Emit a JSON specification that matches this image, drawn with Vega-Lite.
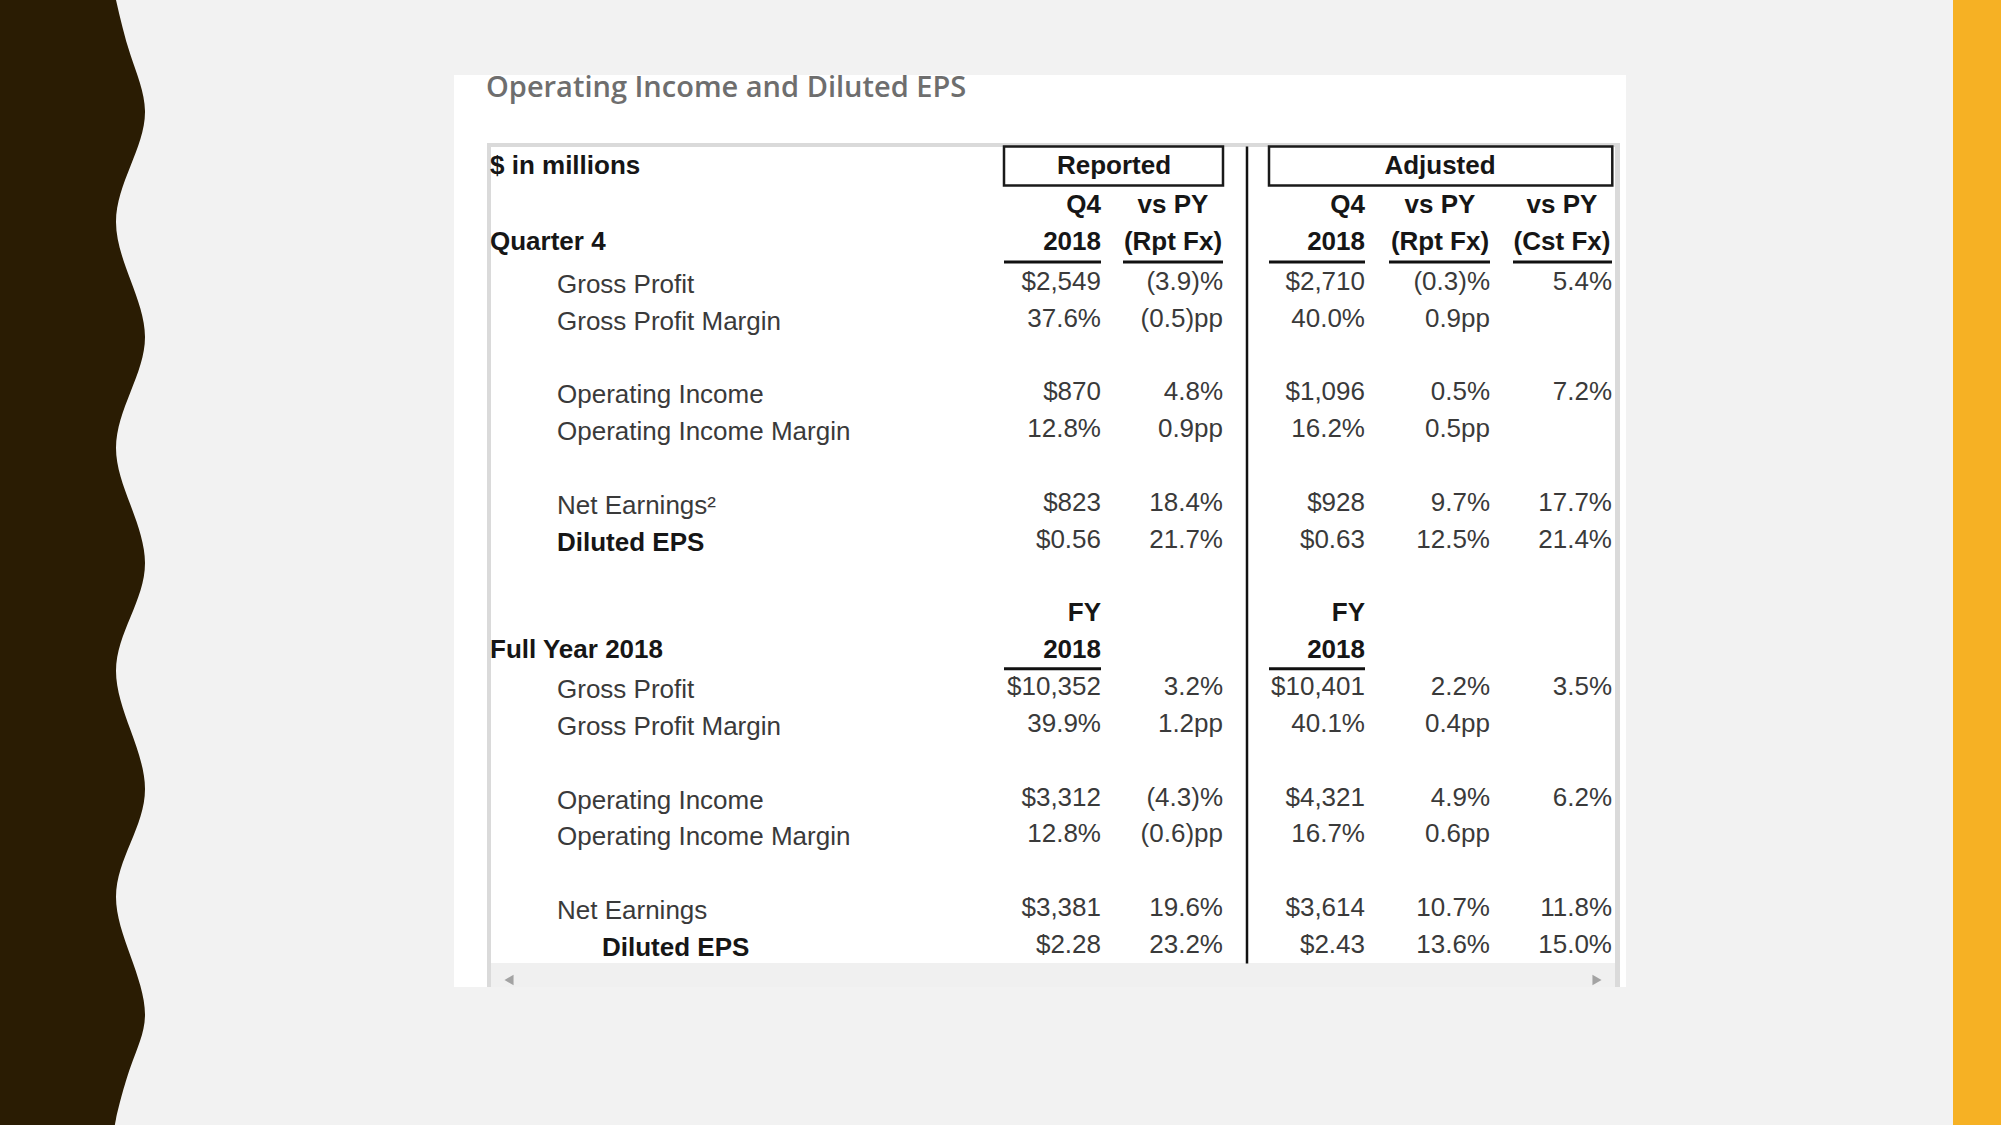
{
  "$schema": "https://vega.github.io/schema/vega-lite/v6.json",
  "width": 2001,
  "height": 1125,
  "autosize": {"type": "fit", "contains": "padding"},
  "padding": 0,
  "background": "#f2f2f2",
  "config": {"view": {"stroke": null}},
  "datasets": {
    "panels": [
      {"name": "card", "x0": 454, "x1": 1626, "y0": 75, "y1": 987},
      {"name": "accent", "x0": 1953, "x1": 2001, "y0": 0, "y1": 1125},
      {"name": "track", "x0": 491, "x1": 1615, "y0": 963, "y1": 987},
      {"name": "borderL", "x0": 487, "x1": 491, "y0": 143, "y1": 987},
      {"name": "borderT", "x0": 487, "x1": 1620, "y0": 143, "y1": 147},
      {"name": "borderR", "x0": 1615, "x1": 1620, "y0": 143, "y1": 987}
    ],
    "wave": [
      {"wy": 0, "wx": 116}, {"wy": 55, "wx": 130.5}, {"wy": 111, "wx": 145},
      {"wy": 166, "wx": 130.5}, {"wy": 222, "wx": 116}, {"wy": 280, "wx": 130.5}, {"wy": 337, "wx": 145},
      {"wy": 392, "wx": 130.5}, {"wy": 448, "wx": 116}, {"wy": 505, "wx": 130.5}, {"wy": 563, "wx": 145},
      {"wy": 617, "wx": 130.5}, {"wy": 671, "wx": 116}, {"wy": 730, "wx": 130.5}, {"wy": 789, "wx": 145},
      {"wy": 843, "wx": 130.5}, {"wy": 897, "wx": 116}, {"wy": 956, "wx": 130.5}, {"wy": 1015, "wx": 145},
      {"wy": 1067, "wx": 130.5}, {"wy": 1119, "wx": 116}, {"wy": 1125, "wx": 116.2}
    ],
    "arrows": [
      {"dir": "left", "ax": 509, "ay": 980},
      {"dir": "right", "ax": 1597, "ay": 980}
    ],
    "cells": [
      {"r": -2, "c": 0, "t": "Operating Income and Diluted EPS", "k": "title"},
      {"r": 0, "c": 1, "t": "$ in millions", "k": "section"},
      {"r": 0, "c": 6, "t": "Reported", "k": "hc"},
      {"r": 0, "c": 14, "t": "Adjusted", "k": "hc"},
      {"r": 1, "c": 5, "t": "Q4", "k": "hr"},
      {"r": 1, "c": 8, "t": "vs PY", "k": "hc"},
      {"r": 1, "c": 12, "t": "Q4", "k": "hr"},
      {"r": 1, "c": 14, "t": "vs PY", "k": "hc"},
      {"r": 1, "c": 17, "t": "vs PY", "k": "hc"},
      {"r": 2, "c": 1, "t": "Quarter 4", "k": "section"},
      {"r": 2, "c": 5, "t": "2018", "k": "hr"},
      {"r": 2, "c": 8, "t": "(Rpt Fx)", "k": "hc"},
      {"r": 2, "c": 12, "t": "2018", "k": "hr"},
      {"r": 2, "c": 14, "t": "(Rpt Fx)", "k": "hc"},
      {"r": 2, "c": 17, "t": "(Cst Fx)", "k": "hc"},
      {"r": 3, "c": 2, "t": "Gross Profit", "k": "item"},
      {"r": 3, "c": 5, "t": "$2,549", "k": "v"},
      {"r": 3, "c": 9, "t": "(3.9)%", "k": "v"},
      {"r": 3, "c": 12, "t": "$2,710", "k": "v"},
      {"r": 3, "c": 15, "t": "(0.3)%", "k": "v"},
      {"r": 3, "c": 18, "t": "5.4%", "k": "v"},
      {"r": 4, "c": 2, "t": "Gross Profit Margin", "k": "item"},
      {"r": 4, "c": 5, "t": "37.6%", "k": "v"},
      {"r": 4, "c": 9, "t": "(0.5)pp", "k": "v"},
      {"r": 4, "c": 12, "t": "40.0%", "k": "v"},
      {"r": 4, "c": 15, "t": "0.9pp", "k": "v"},
      {"r": 6, "c": 2, "t": "Operating Income", "k": "item"},
      {"r": 6, "c": 5, "t": "$870", "k": "v"},
      {"r": 6, "c": 9, "t": "4.8%", "k": "v"},
      {"r": 6, "c": 12, "t": "$1,096", "k": "v"},
      {"r": 6, "c": 15, "t": "0.5%", "k": "v"},
      {"r": 6, "c": 18, "t": "7.2%", "k": "v"},
      {"r": 7, "c": 2, "t": "Operating Income Margin", "k": "item"},
      {"r": 7, "c": 5, "t": "12.8%", "k": "v"},
      {"r": 7, "c": 9, "t": "0.9pp", "k": "v"},
      {"r": 7, "c": 12, "t": "16.2%", "k": "v"},
      {"r": 7, "c": 15, "t": "0.5pp", "k": "v"},
      {"r": 9, "c": 2, "t": "Net Earnings²", "k": "item"},
      {"r": 9, "c": 5, "t": "$823", "k": "v"},
      {"r": 9, "c": 9, "t": "18.4%", "k": "v"},
      {"r": 9, "c": 12, "t": "$928", "k": "v"},
      {"r": 9, "c": 15, "t": "9.7%", "k": "v"},
      {"r": 9, "c": 18, "t": "17.7%", "k": "v"},
      {"r": 10, "c": 2, "t": "Diluted EPS", "k": "itemb"},
      {"r": 10, "c": 5, "t": "$0.56", "k": "v"},
      {"r": 10, "c": 9, "t": "21.7%", "k": "v"},
      {"r": 10, "c": 12, "t": "$0.63", "k": "v"},
      {"r": 10, "c": 15, "t": "12.5%", "k": "v"},
      {"r": 10, "c": 18, "t": "21.4%", "k": "v"},
      {"r": 12, "c": 5, "t": "FY", "k": "hr"},
      {"r": 12, "c": 12, "t": "FY", "k": "hr"},
      {"r": 13, "c": 1, "t": "Full Year 2018", "k": "section"},
      {"r": 13, "c": 5, "t": "2018", "k": "hr"},
      {"r": 13, "c": 12, "t": "2018", "k": "hr"},
      {"r": 14, "c": 2, "t": "Gross Profit", "k": "item"},
      {"r": 14, "c": 5, "t": "$10,352", "k": "v"},
      {"r": 14, "c": 9, "t": "3.2%", "k": "v"},
      {"r": 14, "c": 12, "t": "$10,401", "k": "v"},
      {"r": 14, "c": 15, "t": "2.2%", "k": "v"},
      {"r": 14, "c": 18, "t": "3.5%", "k": "v"},
      {"r": 15, "c": 2, "t": "Gross Profit Margin", "k": "item"},
      {"r": 15, "c": 5, "t": "39.9%", "k": "v"},
      {"r": 15, "c": 9, "t": "1.2pp", "k": "v"},
      {"r": 15, "c": 12, "t": "40.1%", "k": "v"},
      {"r": 15, "c": 15, "t": "0.4pp", "k": "v"},
      {"r": 17, "c": 2, "t": "Operating Income", "k": "item"},
      {"r": 17, "c": 5, "t": "$3,312", "k": "v"},
      {"r": 17, "c": 9, "t": "(4.3)%", "k": "v"},
      {"r": 17, "c": 12, "t": "$4,321", "k": "v"},
      {"r": 17, "c": 15, "t": "4.9%", "k": "v"},
      {"r": 17, "c": 18, "t": "6.2%", "k": "v"},
      {"r": 18, "c": 2, "t": "Operating Income Margin", "k": "item"},
      {"r": 18, "c": 5, "t": "12.8%", "k": "v"},
      {"r": 18, "c": 9, "t": "(0.6)pp", "k": "v"},
      {"r": 18, "c": 12, "t": "16.7%", "k": "v"},
      {"r": 18, "c": 15, "t": "0.6pp", "k": "v"},
      {"r": 20, "c": 2, "t": "Net Earnings", "k": "item"},
      {"r": 20, "c": 5, "t": "$3,381", "k": "v"},
      {"r": 20, "c": 9, "t": "19.6%", "k": "v"},
      {"r": 20, "c": 12, "t": "$3,614", "k": "v"},
      {"r": 20, "c": 15, "t": "10.7%", "k": "v"},
      {"r": 20, "c": 18, "t": "11.8%", "k": "v"},
      {"r": 21, "c": 3, "t": "Diluted EPS", "k": "itemb"},
      {"r": 21, "c": 5, "t": "$2.28", "k": "v"},
      {"r": 21, "c": 9, "t": "23.2%", "k": "v"},
      {"r": 21, "c": 12, "t": "$2.43", "k": "v"},
      {"r": 21, "c": 15, "t": "13.6%", "k": "v"},
      {"r": 21, "c": 18, "t": "15.0%", "k": "v"}
    ],
    "hlines": [
      {"c1": 4, "c2": 5, "r": 2.5},
      {"c1": 7, "c2": 9, "r": 2.5},
      {"c1": 11, "c2": 12, "r": 2.5},
      {"c1": 13, "c2": 15, "r": 2.5},
      {"c1": 16, "c2": 18, "r": 2.5},
      {"c1": 4, "c2": 5, "r": 13.5},
      {"c1": 11, "c2": 12, "r": 13.5}
    ],
    "vlines": [
      {"c": 10, "r1": -0.5, "r2": 21.5}
    ],
    "boxes": [
      {"c1": 4, "c2": 9, "r1": -0.5, "r2": 0.5},
      {"c1": 11, "c2": 18.05, "r1": -0.5, "r2": 0.5}
    ]
  },
  "layer": [
    {
      "layer": [
        {
          "data": {"name": "panels"},
          "mark": {"type": "rect"},
          "encoding": {
            "x": {"field": "x0", "type": "quantitative", "scale": {"domain": [0, 2001], "range": [0, 2001], "nice": false, "zero": false}, "axis": null},
            "x2": {"field": "x1"},
            "y": {"field": "y0", "type": "quantitative", "scale": {"domain": [0, 1125], "range": [0, 1125], "nice": false, "zero": false}, "axis": null},
            "y2": {"field": "y1"},
            "color": {"field": "name", "type": "nominal", "legend": null,
              "scale": {"domain": ["card", "accent", "track", "borderL", "borderT", "borderR"],
                        "range": ["#ffffff", "#f6b124", "#f0f0f0", "#dadada", "#dadada", "#dadada"]}}
          }
        },
        {
          "data": {"name": "wave"},
          "mark": {"type": "area", "orient": "horizontal", "interpolate": "natural", "color": "#2a1c03"},
          "encoding": {
            "y": {"field": "wy", "type": "quantitative", "sort": null, "scale": {"domain": [0, 1125], "range": [0, 1125], "nice": false, "zero": false}, "axis": null},
            "x": {"field": "wx", "type": "quantitative", "scale": {"domain": [0, 2001], "range": [0, 2001], "nice": false, "zero": false}, "axis": null},
            "x2": {"datum": 0}
          }
        },
        {
          "data": {"name": "arrows"},
          "mark": {"type": "point", "filled": true, "size": 110, "color": "#a3a3a3", "opacity": 1},
          "encoding": {
            "x": {"field": "ax", "type": "quantitative", "scale": {"domain": [0, 2001], "range": [0, 2001], "nice": false, "zero": false}, "axis": null},
            "y": {"field": "ay", "type": "quantitative", "scale": {"domain": [0, 1125], "range": [0, 1125], "nice": false, "zero": false}, "axis": null},
            "shape": {"field": "dir", "type": "nominal", "legend": null, "scale": {"domain": ["left", "right"], "range": ["triangle-left", "triangle-right"]}}
          }
        }
      ]
    },
    {
      "data": {"name": "cells"},
      "encoding": {
        "x": {"field": "c", "type": "quantitative", "axis": null,
          "scale": {"domain": [0, 1, 2, 3, 4, 5, 6, 7, 8, 9, 10, 11, 12, 13, 14, 15, 16, 17, 18, 19],
                    "range": [488, 490, 557, 602, 1004, 1101, 1114, 1123, 1173, 1223, 1247, 1269, 1365, 1389, 1440, 1490, 1513, 1562, 1612, 1618],
                    "nice": false, "zero": false}},
        "y": {"field": "r", "type": "quantitative", "axis": null,
          "scale": {"domain": [0, 1, 2, 3, 22], "range": [166, 205, 242, 282, 981.8], "nice": false, "zero": false}}
      },
      "layer": [
        {
          "transform": [{"filter": "datum.k === 'title'"}],
          "mark": {"type": "text", "align": "left", "baseline": "middle", "dx": -2, "font": "Open Sans", "fontWeight": 600, "fontSize": 29, "color": "#6e6e6e"},
          "encoding": {"text": {"field": "t"}}
        },
        {
          "transform": [{"filter": "datum.k === 'section'"}],
          "mark": {"type": "text", "align": "left", "baseline": "middle", "font": "Liberation Sans", "fontWeight": "bold", "fontSize": 26, "color": "#161616"},
          "encoding": {"text": {"field": "t"}}
        },
        {
          "transform": [{"filter": "datum.k === 'item'"}],
          "mark": {"type": "text", "align": "left", "baseline": "middle", "dy": 3, "font": "Liberation Sans", "fontSize": 26, "color": "#3a3a3a"},
          "encoding": {"text": {"field": "t"}}
        },
        {
          "transform": [{"filter": "datum.k === 'itemb'"}],
          "mark": {"type": "text", "align": "left", "baseline": "middle", "dy": 3, "font": "Liberation Sans", "fontWeight": "bold", "fontSize": 26, "color": "#161616"},
          "encoding": {"text": {"field": "t"}}
        },
        {
          "transform": [{"filter": "datum.k === 'hr'"}],
          "mark": {"type": "text", "align": "right", "baseline": "middle", "font": "Liberation Sans", "fontWeight": "bold", "fontSize": 26, "color": "#161616"},
          "encoding": {"text": {"field": "t"}}
        },
        {
          "transform": [{"filter": "datum.k === 'hc'"}],
          "mark": {"type": "text", "align": "center", "baseline": "middle", "font": "Liberation Sans", "fontWeight": "bold", "fontSize": 26, "color": "#161616"},
          "encoding": {"text": {"field": "t"}}
        },
        {
          "transform": [{"filter": "datum.k === 'v'"}],
          "mark": {"type": "text", "align": "right", "baseline": "middle", "font": "Liberation Sans", "fontSize": 26, "color": "#3a3a3a"},
          "encoding": {"text": {"field": "t"}}
        },
        {
          "data": {"name": "hlines"},
          "mark": {"type": "rule", "color": "#111111", "strokeWidth": 3},
          "encoding": {
            "x": {"field": "c1", "type": "quantitative"},
            "x2": {"field": "c2"},
            "y": {"field": "r", "type": "quantitative"}
          }
        },
        {
          "data": {"name": "vlines"},
          "mark": {"type": "rule", "color": "#111111", "strokeWidth": 2.5},
          "encoding": {
            "x": {"field": "c", "type": "quantitative"},
            "y": {"field": "r1", "type": "quantitative"},
            "y2": {"field": "r2"}
          }
        },
        {
          "data": {"name": "boxes"},
          "mark": {"type": "rect", "filled": false, "stroke": "#1a1a1a", "strokeWidth": 2.5},
          "encoding": {
            "x": {"field": "c1", "type": "quantitative"},
            "x2": {"field": "c2"},
            "y": {"field": "r1", "type": "quantitative"},
            "y2": {"field": "r2"}
          }
        }
      ]
    }
  ],
  "resolve": {"scale": {"x": "independent", "y": "independent", "color": "independent", "shape": "independent"}}
}
